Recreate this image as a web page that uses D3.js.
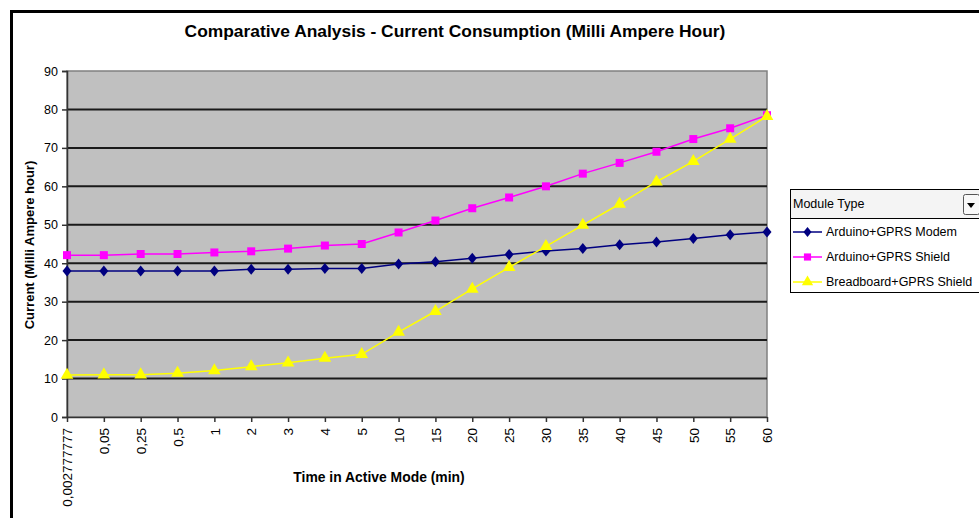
<!DOCTYPE html>
<html>
<head>
<meta charset="utf-8">
<script src="https://cdn.jsdelivr.net/npm/d3@7"></script>
<style>
	body { margin: 0; background: #fff; }
	svg { display: block; font-family: "Liberation Sans", Arial, sans-serif; }
</style>
</head>
<body>
<svg id="chart" width="979" height="518"></svg>
<script>
var categories = ["0,002777777", "0,05", "0,25", "0,5", "1", "2", "3", "4", "5", "10",
	"15", "20", "25", "30", "35", "40", "45", "50", "55", "60"];
var modemVals = [38, 38, 38, 38, 38, 38.4, 38.4, 38.6, 38.6, 39.8,
	40.4, 41.3, 42.3, 43.2, 43.8, 44.8, 45.5, 46.4, 47.4, 48.1];
var shieldVals = [42.1, 42.1, 42.4, 42.4, 42.8, 43.1, 43.8, 44.6, 45, 48,
	51.1, 54.3, 57.1, 60, 63.3, 66.1, 69, 72.3, 75.1, 78.5];
var breadVals = [10.9, 11, 11, 11.4, 12.1, 13.1, 14.1, 15.3, 16.3, 22.1,
	27.5, 33.3, 38.9, 44.4, 49.9, 55.4, 61.2, 66.5, 72.3, 78.2];
var seriesNames = ["Arduino+GPRS Modem", "Arduino+GPRS Shield", "Breadboard+GPRS Shield"];
var yTicks = [0, 10, 20, 30, 40, 50, 60, 70, 80, 90];

// wider diamond than d3's default
var wideDiamond = {
	draw: function(ctx, size) {
		var r = Math.sqrt(size / 2);
		ctx.moveTo(0, -r * 1.1);
		ctx.lineTo(r * 0.9, 0);
		ctx.lineTo(0, r * 1.1);
		ctx.lineTo(-r * 0.9, 0);
		ctx.closePath();
	}
};

var series = [
	{name: seriesNames[0], vals: modemVals, color: "#000080", sym: wideDiamond, size: 50},
	{name: seriesNames[1], vals: shieldVals, color: "#ff00ff", sym: d3.symbolSquare, size: 64},
	{name: seriesNames[2], vals: breadVals, color: "#ffff00", sym: d3.symbolTriangle, size: 70}
];

var svg = d3.select("#chart");
var plot = {left: 67, top: 71, right: 767, bottom: 417};

// outer frame
svg.append("rect")
	.attr("x", 11.5).attr("y", 11.5)
	.attr("width", 1000).attr("height", 600)
	.attr("fill", "none").attr("stroke", "#000").attr("stroke-width", 3);

svg.append("text")
	.attr("x", 455).attr("y", 37)
	.attr("text-anchor", "middle")
	.attr("font-size", "17.4px").attr("font-weight", "bold")
	.text("Comparative Analysis - Current Consumption (Milli Ampere Hour)");

var x = d3.scalePoint().domain(categories).range([plot.left, plot.right]);
var y = d3.scaleLinear().domain([0, 90]).range([plot.bottom, plot.top]);

svg.append("rect")
	.attr("x", plot.left).attr("y", plot.top)
	.attr("width", plot.right - plot.left).attr("height", plot.bottom - plot.top)
	.attr("fill", "#c0c0c0").attr("stroke", "#808080").attr("stroke-width", 1.5);

// gridlines
svg.append("g").selectAll("line")
	.data(yTicks.filter(d => d > 0 && d < 90))
	.enter().append("line")
		.attr("x1", plot.left).attr("x2", plot.right)
		.attr("y1", d => y(d)).attr("y2", d => y(d))
		.attr("stroke", "#1a1a1a").attr("stroke-width", 2);

var yAxis = svg.append("g")
	.attr("transform", "translate(" + plot.left + ",0)")
	.call(d3.axisLeft(y).tickValues(yTicks).tickSize(5).tickPadding(4));
yAxis.selectAll("text").attr("font-size", "12.5px").attr("fill", "#000").style("font-family", "Liberation Sans, Arial, sans-serif");
yAxis.selectAll("line, path").attr("stroke", "#333").attr("stroke-width", 1.5);

var xAxis = svg.append("g")
	.attr("transform", "translate(0," + plot.bottom + ")")
	.call(d3.axisBottom(x).tickSize(5).tickSizeOuter(0));
xAxis.selectAll("line, path").attr("stroke", "#333").attr("stroke-width", 1.5);
xAxis.selectAll("text")
	.attr("font-size", "13.5px").attr("fill", "#000")
	.style("font-family", "Liberation Sans, Arial, sans-serif")
	.attr("text-anchor", "end")
	.attr("dy", "0.35em")
	.attr("transform", "translate(0,11) rotate(-90)")
	.attr("x", 0).attr("y", 0);

svg.append("text")
	.attr("transform", "translate(34,245) rotate(-90)")
	.attr("text-anchor", "middle")
	.attr("font-size", "13px").attr("font-weight", "bold")
	.text("Current (Milli Ampere hour)");

svg.append("text")
	.attr("x", 379).attr("y", 482)
	.attr("text-anchor", "middle")
	.attr("font-size", "13.9px").attr("font-weight", "bold")
	.text("Time in Active Mode (min)");

var line = d3.line().x((d, i) => x(categories[i])).y(d => y(d));

series.forEach(function(s) {
	var g = svg.append("g");
	g.append("path")
		.attr("d", line(s.vals))
		.attr("fill", "none").attr("stroke", s.color).attr("stroke-width", 1.5);
	g.selectAll("path.mk")
		.data(s.vals)
		.enter().append("path")
			.attr("class", "mk")
			.attr("d", d3.symbol().type(s.sym).size(s.size))
			.attr("transform", (d, i) => "translate(" + x(categories[i]) + "," + y(d) + ")")
			.attr("fill", s.color);
});

// legend
var lg = svg.append("g");
lg.append("rect")
	.attr("x", 790.5).attr("y", 189.5).attr("width", 200).attr("height", 103)
	.attr("fill", "#fff").attr("stroke", "#000").attr("stroke-width", 1);
lg.append("rect")
	.attr("x", 790.5).attr("y", 189.5).attr("width", 200).attr("height", 29)
	.attr("fill", "#f4f4f4").attr("stroke", "#000").attr("stroke-width", 1);
lg.append("text")
	.attr("x", 793).attr("y", 208)
	.attr("font-size", "12.5px").text("Module Type");
lg.append("rect")
	.attr("x", 963.5).attr("y", 194.5).attr("width", 16).attr("height", 20)
	.attr("fill", "#f8f8f8").attr("stroke", "#555").attr("rx", 2);
lg.append("path")
	.attr("d", "M967,203 L975,203 L971,208 Z").attr("fill", "#000");

series.forEach(function(s, i) {
	var yy = 232 + i * 25;
	lg.append("line")
		.attr("x1", 793).attr("x2", 822).attr("y1", yy).attr("y2", yy)
		.attr("stroke", s.color).attr("stroke-width", 1.5);
	lg.append("path")
		.attr("d", d3.symbol().type(s.sym).size(s.size * 0.8))
		.attr("transform", "translate(807.5," + yy + ")")
		.attr("fill", s.color);
	lg.append("text")
		.attr("x", 826).attr("y", yy + 4)
		.attr("font-size", "12.5px").text(s.name);
});
</script>
</body>
</html>
